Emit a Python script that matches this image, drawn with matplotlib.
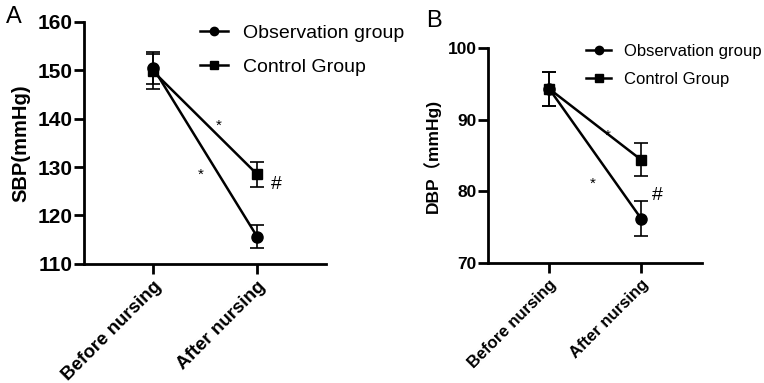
import matplotlib
matplotlib.use("Agg")
import matplotlib.pyplot as plt
from matplotlib.lines import Line2D

plt.rcParams['font.family'] = ['Liberation Sans', 'Noto Sans CJK SC', 'DejaVu Sans']

categories = ["Before nursing", "After nursing"]

sbp_obs = [150.5, 115.6]
sbp_obs_err = [3.3, 2.4]
sbp_ctrl = [149.8, 128.5]
sbp_ctrl_err = [3.6, 2.6]

dbp_obs = [94.3, 76.2]
dbp_obs_err = [2.4, 2.4]
dbp_ctrl = [94.3, 84.4]
dbp_ctrl_err = [2.4, 2.3]

# significance marks: (x, y, text)
sbp_marks = [(0.63, 138.6, "*"), (0.46, 128.4, "*"), (1.18, 126.3, "#")]
dbp_marks = [(0.64, 87.7, "*"), (0.47, 81.0, "*"), (1.18, 79.4, "#")]


def draw_panel(ax, obs, obs_err, ctrl, ctrl_err, ylim, yticks, ylabel, marks,
               xsize, ysize, lsize):
    x = list(range(len(categories)))
    ax.errorbar(x, obs, yerr=obs_err, color='black', marker='o', markersize=8,
                linewidth=1.8, elinewidth=1.2, capsize=5, capthick=1.2)
    ax.errorbar(x, ctrl, yerr=ctrl_err, color='black', marker='s', markersize=7,
                linewidth=1.8, elinewidth=1.2, capsize=5, capthick=1.2)
    for mx, my, t in marks:
        ax.text(mx, my, t, ha='center', va='center',
                fontsize=14 if t == "#" else 11)
    ax.set_xlim(-0.663, 1.663)
    ax.set_ylim(*ylim)
    ax.set_yticks(yticks)
    ax.set_xticks(x)
    ax.set_xticklabels(categories, rotation=45, ha='right',
                       rotation_mode='anchor', fontweight='bold', fontsize=xsize)
    for lab in ax.get_yticklabels():
        lab.set_fontweight('bold')
        lab.set_fontsize(ysize)
    ax.set_ylabel(ylabel, fontweight='bold', fontsize=lsize, labelpad=5)
    ax.spines['top'].set_visible(False)
    ax.spines['right'].set_visible(False)
    ax.spines['left'].set_linewidth(2)
    ax.spines['bottom'].set_linewidth(2)
    ax.tick_params(axis='y', width=2, length=7, pad=1.5)
    ax.tick_params(axis='x', width=2, length=7, pad=3)


def legend_handles():
    return [Line2D([], [], color='black', marker='o', markersize=6, linewidth=1.8,
                   label="Observation group"),
            Line2D([], [], color='black', marker='s', markersize=6, linewidth=1.8,
                   label="Control Group")]


fig = plt.figure(figsize=(7.64, 3.83), dpi=100)
ax1 = fig.add_axes([0.110, 0.311, 0.317, 0.632])
ax2 = fig.add_axes([0.639, 0.313, 0.280, 0.562])

draw_panel(ax1, sbp_obs, sbp_obs_err, sbp_ctrl, sbp_ctrl_err,
           (110, 160), [110, 120, 130, 140, 150, 160], "SBP(mmHg)", sbp_marks,
           13.5, 15, 14.5)
draw_panel(ax2, dbp_obs, dbp_obs_err, dbp_ctrl, dbp_ctrl_err,
           (70, 100), [70, 80, 90, 100], "DBP（mmHg)", dbp_marks,
           12, 12.5, 12.5)

fig.legend(handles=legend_handles(), loc='upper left',
           bbox_to_anchor=(200 / 764, 1 - 24 / 383), frameon=False,
           fontsize=14, handlelength=1.45, handletextpad=0.75,
           labelspacing=0.85, borderpad=0, borderaxespad=0)
fig.legend(handles=legend_handles(), loc='upper left',
           bbox_to_anchor=(586 / 764, 1 - 44 / 383), frameon=False,
           fontsize=12, handlelength=1.5, handletextpad=0.75,
           labelspacing=0.8, borderpad=0, borderaxespad=0)

fig.text(0.008, 0.955, "A", fontsize=17, va='center')
fig.text(0.558, 0.945, "B", fontsize=17, va='center')

fig.savefig("out.png", dpi=100)
